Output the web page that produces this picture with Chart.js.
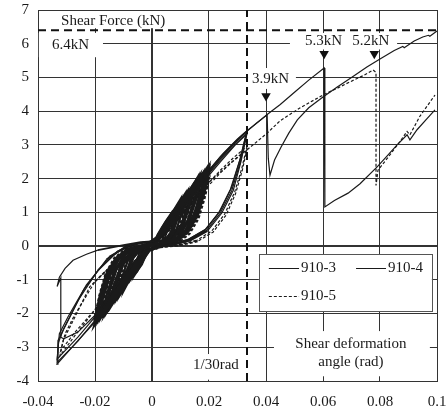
<!DOCTYPE html>
<html>
<head>
<meta charset="utf-8">
<script src="https://cdn.jsdelivr.net/npm/chart.js@4"></script>
<style>
  body { margin: 0; background: #fff; }
  #wrap { width: 448px; height: 412px; }
</style>
</head>
<body>
<div id="wrap"><canvas id="chart" width="448" height="412"></canvas></div>
<script>
// Axis ticks
const xTicks = [-0.04, -0.02, 0, 0.02, 0.04, 0.06, 0.08, 0.1];
const xTickLabels = ["-0.04", "-0.02", "0", "0.02", "0.04", "0.06", "0.08", "0.1"];
const yTicks = [-4, -3, -2, -1, 0, 1, 2, 3, 4, 5, 6, 7];

// Shear deformation angle (rad), shear force (kN)
const s910_3 = [
  [0,0],[0.0015,0.25],[0.0033,0.5],[0.0025,0.28],[0.001,0.05],[-0.001,-0.12],[-0.0033,-0.48],[-0.0025,-0.27],[-0.001,-0.03],[0.0005,0.08],
  [0.002,0.35],[0.0035,0.57],[0.005,0.75],[0.004,0.45],[0.0025,0.15],[0.001,0.02],[-0.001,-0.1],[-0.0025,-0.35],[-0.0035,-0.55],[-0.005,-0.72],[-0.004,-0.42],[-0.0025,-0.12],[-0.001,0],[0.001,0.12],
  [0.003,0.42],[0.0055,0.8],[0.0075,1.05],[0.0062,0.62],[0.0045,0.25],[0.0025,0.05],[0,-0.05],[-0.003,-0.4],[-0.0055,-0.75],[-0.0075,-1.0],[-0.0062,-0.58],[-0.0045,-0.22],[-0.0025,-0.03],[0,0.08],
  [0.003,0.4],[0.006,0.82],[0.008,1.1],[0.01,1.35],[0.0085,0.85],[0.0065,0.4],[0.004,0.12],[0.001,0],[-0.002,-0.2],[-0.005,-0.6],[-0.0075,-0.95],[-0.01,-1.3],[-0.0085,-0.8],[-0.0065,-0.35],[-0.004,-0.1],[-0.001,0.05],
  [0.002,0.2],[0.005,0.62],[0.008,1.02],[0.01,1.27],[0.0087,0.82],[0.0068,0.36],[0.0042,0.1],[0.001,-0.02],[-0.002,-0.22],[-0.005,-0.58],[-0.008,-0.98],[-0.01,-1.22],[-0.0087,-0.75],[-0.0068,-0.32],[-0.0042,-0.08],[-0.001,0.06],
  [0.003,0.35],[0.006,0.78],[0.0085,1.15],[0.011,1.45],[0.0094,0.92],[0.0073,0.42],[0.0046,0.11],[0.0015,-0.01],[-0.002,-0.2],[-0.0055,-0.62],[-0.0085,-1.05],[-0.011,-1.4],[-0.0094,-0.88],[-0.0073,-0.38],[-0.0046,-0.09],[-0.0015,0.05],
  [0.003,0.35],[0.0065,0.82],[0.0095,1.25],[0.0125,1.6],[0.0107,1.02],[0.0085,0.5],[0.0055,0.14],[0.002,0],[-0.0015,-0.15],[-0.0045,-0.5],[-0.0085,-1.02],[-0.0125,-1.55],[-0.0107,-0.97],[-0.0085,-0.45],[-0.0055,-0.11],[-0.002,0.04],
  [0.002,0.2],[0.005,0.55],[0.009,1.05],[0.012,1.5],[0.015,1.9],[0.013,1.25],[0.0105,0.65],[0.007,0.2],[0.003,0.02],[-0.001,-0.1],[-0.005,-0.55],[-0.009,-1.05],[-0.012,-1.45],[-0.015,-1.85],[-0.013,-1.2],[-0.0105,-0.6],[-0.007,-0.18],[-0.003,0],[0.001,0.12],
  [0.005,0.5],[0.009,0.98],[0.012,1.4],[0.015,1.8],[0.0132,1.2],[0.0108,0.6],[0.0072,0.18],[0.003,0],[-0.001,-0.12],[-0.005,-0.52],[-0.009,-1.0],[-0.012,-1.38],[-0.015,-1.76],[-0.0132,-1.12],[-0.0108,-0.55],[-0.0072,-0.15],[-0.003,0.02],[0.001,0.12],
  [0.004,0.42],[0.008,0.92],[0.0125,1.5],[0.0165,2.0],[0.0148,1.38],[0.0124,0.76],[0.009,0.28],[0.0055,0.06],[0.0015,-0.02],[-0.002,-0.17],[-0.0065,-0.62],[-0.011,-1.2],[-0.0165,-1.95],[-0.0148,-1.32],[-0.0124,-0.7],[-0.009,-0.24],[-0.0055,-0.04],[-0.0015,0.06],[0.001,0.12],
  [0.004,0.4],[0.008,0.9],[0.0125,1.5],[0.0175,2.1],[0.0157,1.45],[0.0132,0.82],[0.0098,0.33],[0.006,0.08],[0.002,0],[-0.002,-0.15],[-0.006,-0.55],[-0.0105,-1.1],[-0.014,-1.55],[-0.0175,-2.02],[-0.0157,-1.4],[-0.0132,-0.75],[-0.0098,-0.28],[-0.006,-0.05],[-0.002,0.05],[0.001,0.12],
  [0.005,0.5],[0.0095,1.05],[0.0145,1.7],[0.019,2.3],[0.0172,1.66],[0.0148,0.98],[0.0115,0.45],[0.0075,0.14],[0.0028,0.01],[-0.002,-0.14],[-0.0062,-0.6],[-0.0105,-1.12],[-0.0148,-1.7],[-0.019,-2.25],[-0.0172,-1.58],[-0.0148,-0.9],[-0.0115,-0.39],[-0.0075,-0.1],[-0.0028,0.03],[0.001,0.12],
  [0.005,0.5],[0.01,1.1],[0.015,1.75],[0.02,2.4],[0.018,1.75],[0.0155,1.05],[0.012,0.5],[0.008,0.18],[0.003,0.03],[-0.002,-0.12],[-0.006,-0.55],[-0.01,-1.05],[-0.015,-1.65],[-0.02,-2.3],[-0.018,-1.65],[-0.0155,-0.95],[-0.012,-0.42],[-0.008,-0.12],[-0.003,0.02],[0.001,0.12],
  [0.005,0.48],[0.01,1.05],[0.015,1.65],[0.02,2.25],[0.0182,1.65],[0.0158,0.98],[0.0123,0.45],[0.0082,0.15],[0.003,0.02],[-0.002,-0.14],[-0.006,-0.52],[-0.01,-1.0],[-0.015,-1.6],[-0.02,-2.2],[-0.0182,-1.55],[-0.0158,-0.88],[-0.0123,-0.38],[-0.0082,-0.1],[-0.003,0.03],[0.001,0.12],
  [0.005,0.45],[0.01,1.0],[0.015,1.58],[0.02,2.15],[0.0185,1.58],[0.0162,0.92],[0.0128,0.42],[0.0088,0.13],[0.0035,0.01],[-0.002,-0.16],[-0.006,-0.55],[-0.01,-1.02],[-0.015,-1.58],[-0.02,-2.12],[-0.0185,-1.5],[-0.0162,-0.84],[-0.0128,-0.35],[-0.0088,-0.09],[-0.0035,0.03],[0.001,0.12],
  [0.006,0.6],[0.012,1.3],[0.018,2.0],[0.024,2.6],[0.029,3.05],[0.0333,3.4],[0.031,2.6],[0.028,1.75],[0.024,1.05],[0.019,0.5],[0.013,0.2],[0.007,0.06],[0.002,0],[-0.003,-0.15],[-0.008,-0.65],[-0.014,-1.35],[-0.02,-2.25],[-0.026,-2.8],[-0.0333,-3.5],[-0.033,-2.8],[-0.03,-2.3],[-0.024,-1.3],[-0.016,-0.4],[-0.009,0],[-0.003,0.1],[0.001,0.15],
  [0.006,0.55],[0.012,1.22],[0.018,1.9],[0.024,2.5],[0.029,2.98],[0.0333,3.32],[0.0312,2.5],[0.0285,1.65],[0.0245,0.98],[0.0195,0.45],[0.0135,0.17],[0.0072,0.04],[0.002,-0.02],[-0.003,-0.18],[-0.008,-0.68],[-0.014,-1.35],[-0.02,-2.1],[-0.026,-2.7],[-0.0333,-3.35],[-0.0325,-2.6],[-0.0295,-2.1],[-0.023,-1.15],[-0.015,-0.32],[-0.008,0.02],[-0.003,0.1],[0.001,0.15],
  [0.005,0.55],[0.01,1.1],[0.015,1.65],[0.02,2.2],[0.025,2.7],[0.03,3.15],[0.0333,3.4],[0.0367,3.65],[0.0404,3.89],[0.0408,2.6],[0.0414,2.1],[0.043,2.55],[0.0453,2.94],[0.048,3.35],[0.051,3.74],[0.055,4.1],[0.06,4.42],[0.065,4.72],[0.07,5.0],[0.0754,5.31],[0.08,5.55],[0.085,5.8],[0.088,5.92],[0.0885,5.88],[0.092,6.08],[0.095,6.2],[0.097,6.25],[0.0975,6.22],[0.1,6.38]
];

const s910_4 = [
  [0,0],[0.002,0.33],[0.004,0.6],[0.003,0.32],[0.0015,0.06],[-0.001,-0.12],[-0.004,-0.58],[-0.003,-0.3],[-0.0015,-0.04],[0.0005,0.1],
  [0.0025,0.38],[0.0045,0.7],[0.0065,0.95],[0.0053,0.55],[0.0037,0.2],[0.0018,0.03],[-0.0005,-0.08],[-0.0025,-0.35],[-0.0045,-0.66],[-0.0065,-0.92],[-0.0053,-0.5],[-0.0037,-0.17],[-0.0018,0],[0.0005,0.1],
  [0.003,0.42],[0.006,0.85],[0.0082,1.15],[0.01,1.4],[0.0086,0.9],[0.0066,0.42],[0.0041,0.13],[0.0012,0.01],[-0.002,-0.2],[-0.005,-0.62],[-0.0077,-0.98],[-0.01,-1.35],[-0.0086,-0.85],[-0.0066,-0.37],[-0.0041,-0.1],[-0.0012,0.05],
  [0.003,0.38],[0.0062,0.82],[0.009,1.22],[0.0115,1.55],[0.0098,1.0],[0.0076,0.46],[0.0048,0.12],[0.0016,0],[-0.002,-0.2],[-0.0057,-0.66],[-0.0088,-1.12],[-0.0115,-1.5],[-0.0098,-0.95],[-0.0076,-0.42],[-0.0048,-0.1],[-0.0016,0.05],
  [0.003,0.3],[0.0065,0.8],[0.0095,1.25],[0.0125,1.65],[0.0108,1.05],[0.0086,0.5],[0.0057,0.14],[0.0022,0],[-0.0015,-0.14],[-0.0045,-0.5],[-0.0085,-1.05],[-0.0125,-1.6],[-0.0108,-1.0],[-0.0086,-0.45],[-0.0057,-0.1],[-0.0022,0.04],
  [0.0035,0.38],[0.0075,0.92],[0.011,1.4],[0.0145,1.85],[0.0125,1.2],[0.01,0.6],[0.0068,0.18],[0.003,0.01],[-0.001,-0.12],[-0.005,-0.55],[-0.0095,-1.15],[-0.0145,-1.82],[-0.0125,-1.15],[-0.01,-0.55],[-0.0068,-0.15],[-0.003,0.02],[0.001,0.12],
  [0.002,0.18],[0.0055,0.6],[0.0095,1.12],[0.013,1.62],[0.016,2.05],[0.014,1.38],[0.0112,0.72],[0.0075,0.22],[0.0032,0.02],[-0.001,-0.12],[-0.0055,-0.6],[-0.0095,-1.1],[-0.013,-1.58],[-0.016,-2.0],[-0.014,-1.32],[-0.0112,-0.66],[-0.0075,-0.19],[-0.0032,0.01],[0.001,0.13],
  [0.004,0.45],[0.0083,0.98],[0.0128,1.6],[0.017,2.15],[0.0152,1.48],[0.0127,0.8],[0.0093,0.3],[0.0057,0.07],[0.0016,-0.01],[-0.002,-0.16],[-0.0067,-0.65],[-0.0115,-1.28],[-0.017,-2.1],[-0.0152,-1.42],[-0.0127,-0.74],[-0.0093,-0.26],[-0.0057,-0.05],[-0.0016,0.06],[0.001,0.13],
  [0.004,0.42],[0.0085,0.95],[0.013,1.55],[0.018,2.2],[0.016,1.5],[0.0135,0.85],[0.01,0.35],[0.0062,0.09],[0.002,0],[-0.002,-0.16],[-0.0065,-0.62],[-0.011,-1.18],[-0.0145,-1.65],[-0.018,-2.15],[-0.016,-1.45],[-0.0135,-0.78],[-0.01,-0.3],[-0.0062,-0.06],[-0.002,0.05],[0.001,0.13],
  [0.005,0.52],[0.01,1.12],[0.015,1.78],[0.02,2.35],[0.0178,1.68],[0.0152,1.0],[0.0118,0.48],[0.0078,0.16],[0.0028,0.02],[-0.002,-0.12],[-0.006,-0.58],[-0.01,-1.1],[-0.015,-1.72],[-0.0205,-2.4],[-0.0183,-1.72],[-0.0158,-1.0],[-0.0122,-0.44],[-0.0082,-0.13],[-0.003,0.02],[0.001,0.13],
  [0.005,0.46],[0.01,1.02],[0.015,1.62],[0.02,2.2],[0.0183,1.6],[0.016,0.95],[0.0125,0.43],[0.0085,0.14],[0.0032,0.01],[-0.002,-0.15],[-0.006,-0.55],[-0.01,-1.05],[-0.015,-1.65],[-0.02,-2.25],[-0.0183,-1.6],[-0.016,-0.9],[-0.0125,-0.4],[-0.0085,-0.11],[-0.003,0.03],[0.001,0.13],
  [0.005,0.5],[0.01,1.08],[0.015,1.7],[0.02,2.3],[0.018,1.64],[0.0156,0.98],[0.012,0.46],[0.008,0.15],[0.003,0.02],[-0.002,-0.13],[-0.006,-0.56],[-0.01,-1.08],[-0.015,-1.7],[-0.02,-2.3],[-0.018,-1.62],[-0.0156,-0.94],[-0.012,-0.4],[-0.008,-0.11],[-0.003,0.03],[0.001,0.13],
  [0.006,0.62],[0.012,1.33],[0.018,2.05],[0.024,2.65],[0.029,3.08],[0.0333,3.42],[0.0308,2.55],[0.0275,1.68],[0.0235,1.0],[0.0185,0.47],[0.0125,0.18],[0.0068,0.05],[0.002,0],[-0.003,-0.17],[-0.008,-0.7],[-0.014,-1.42],[-0.02,-2.2],[-0.026,-2.82],[-0.0333,-3.45],[-0.0328,-2.85],[-0.031,-2.45],[-0.026,-1.62],[-0.019,-0.72],[-0.012,-0.15],[-0.005,0.08],[0.001,0.14],
  [0.006,0.58],[0.012,1.27],[0.018,1.96],[0.024,2.55],[0.029,3.0],[0.0333,3.35],[0.031,2.5],[0.028,1.65],[0.024,0.98],[0.019,0.45],[0.013,0.17],[0.007,0.04],[0.002,-0.02],[-0.003,-0.16],[-0.008,-0.66],[-0.014,-1.35],[-0.02,-2.05],[-0.026,-2.55],[-0.031,-2.75],[-0.032,-2.7],[-0.032,-0.95],[-0.0333,-1.2],[-0.0325,-0.92],[-0.0305,-0.66],[-0.0277,-0.42],[-0.023,-0.24],[-0.019,-0.12],[-0.01,0.03],[-0.004,0.12],[0.001,0.15],
  [0.005,0.55],[0.01,1.12],[0.015,1.7],[0.02,2.25],[0.025,2.75],[0.03,3.18],[0.0333,3.42],[0.037,3.66],[0.0404,3.9],[0.045,4.2],[0.05,4.56],[0.055,4.92],[0.0604,5.28],[0.0606,3.0],[0.0607,1.16],[0.064,1.35],[0.0688,1.57],[0.073,1.85],[0.079,2.35],[0.083,2.72],[0.086,3.0],[0.0895,3.3],[0.0905,3.15],[0.093,3.45],[0.0965,3.78],[0.0993,4.04]
];

const s910_5 = [
  [0,0],[0.002,0.22],[0.0035,0.42],[0.005,0.6],[0.004,0.33],[0.0025,0.1],[0.001,0],[-0.001,-0.1],[-0.0035,-0.42],[-0.005,-0.6],[-0.004,-0.32],[-0.0025,-0.08],[-0.001,0.02],[0.001,0.1],
  [0.004,0.42],[0.007,0.8],[0.01,1.15],[0.0085,0.7],[0.0065,0.3],[0.004,0.08],[0.001,-0.02],[-0.002,-0.2],[-0.005,-0.55],[-0.0075,-0.85],[-0.01,-1.15],[-0.0085,-0.68],[-0.0065,-0.28],[-0.004,-0.06],[-0.001,0.05],
  [0.003,0.28],[0.0065,0.7],[0.0095,1.05],[0.0125,1.35],[0.0107,0.85],[0.0085,0.4],[0.0055,0.1],[0.002,-0.01],[-0.0015,-0.14],[-0.0045,-0.48],[-0.0085,-0.92],[-0.0125,-1.35],[-0.0107,-0.83],[-0.0085,-0.38],[-0.0055,-0.08],[-0.002,0.04],
  [0.0035,0.3],[0.0075,0.76],[0.011,1.18],[0.0145,1.55],[0.0126,1.0],[0.0102,0.48],[0.0069,0.13],[0.003,0],[-0.001,-0.12],[-0.005,-0.5],[-0.0095,-0.98],[-0.0145,-1.55],[-0.0126,-0.98],[-0.0102,-0.45],[-0.0069,-0.1],[-0.003,0.03],[0.001,0.1],
  [0.003,0.25],[0.007,0.7],[0.011,1.15],[0.015,1.6],[0.013,1.05],[0.0105,0.5],[0.007,0.14],[0.003,0],[-0.001,-0.12],[-0.005,-0.5],[-0.01,-1.0],[-0.015,-1.6],[-0.013,-1.02],[-0.0105,-0.47],[-0.007,-0.12],[-0.003,0.02],[0.001,0.1],
  [0.004,0.35],[0.008,0.8],[0.0125,1.3],[0.0175,1.8],[0.0158,1.25],[0.0135,0.68],[0.0102,0.27],[0.0065,0.06],[0.002,-0.01],[-0.002,-0.15],[-0.0065,-0.58],[-0.011,-1.05],[-0.0175,-1.85],[-0.0158,-1.25],[-0.0135,-0.65],[-0.0102,-0.24],[-0.0065,-0.04],[-0.002,0.05],[0.001,0.1],
  [0.005,0.42],[0.01,0.92],[0.015,1.45],[0.02,2.0],[0.0182,1.45],[0.016,0.85],[0.0128,0.4],[0.0088,0.12],[0.0035,0],[-0.002,-0.14],[-0.006,-0.52],[-0.01,-0.98],[-0.015,-1.52],[-0.02,-2.1],[-0.0182,-1.48],[-0.016,-0.85],[-0.0128,-0.38],[-0.0088,-0.1],[-0.0035,0.02],[0.001,0.1],
  [0.005,0.4],[0.01,0.88],[0.015,1.4],[0.02,1.95],[0.0184,1.38],[0.0163,0.8],[0.0132,0.36],[0.0092,0.1],[0.0038,-0.01],[-0.002,-0.16],[-0.006,-0.52],[-0.01,-0.95],[-0.015,-1.48],[-0.02,-2.05],[-0.0184,-1.42],[-0.0163,-0.8],[-0.0132,-0.34],[-0.0092,-0.08],[-0.0035,0.03],[0.001,0.1],
  [0.006,0.48],[0.012,1.1],[0.018,1.7],[0.024,2.25],[0.029,2.65],[0.0333,2.95],[0.0315,2.3],[0.029,1.6],[0.0255,0.95],[0.021,0.45],[0.0155,0.16],[0.009,0.03],[0.003,-0.03],[-0.003,-0.18],[-0.009,-0.7],[-0.015,-1.35],[-0.021,-2.0],[-0.027,-2.65],[-0.0323,-3.25],[-0.0312,-2.8],[-0.0288,-2.4],[-0.0218,-1.2],[-0.0123,-0.42],[-0.0067,-0.06],[-0.002,0.06],[0.001,0.1],
  [0.006,0.45],[0.012,1.05],[0.018,1.63],[0.024,2.17],[0.029,2.57],[0.0333,2.87],[0.0317,2.25],[0.0293,1.55],[0.026,0.92],[0.0215,0.42],[0.016,0.14],[0.0095,0.02],[0.003,-0.04],[-0.003,-0.2],[-0.009,-0.72],[-0.015,-1.35],[-0.021,-1.98],[-0.027,-2.55],[-0.032,-3.1],[-0.0305,-2.6],[-0.0275,-2.1],[-0.02,-1.05],[-0.011,-0.32],[-0.006,-0.04],[-0.002,0.06],[0.001,0.1],
  [0.005,0.4],[0.01,0.9],[0.015,1.4],[0.02,1.9],[0.027,2.42],[0.0333,2.85],[0.0404,3.35],[0.045,3.72],[0.052,4.1],[0.06,4.48],[0.065,4.68],[0.0695,4.87],[0.074,5.05],[0.0776,5.22],[0.0786,5.15],[0.0786,1.8],[0.0793,2.25],[0.083,2.65],[0.087,3.1],[0.0895,3.4],[0.0905,3.3],[0.094,3.85],[0.0993,4.48]
];

// Reference lines and peak markers
const maxForceLine = [[-0.04, 6.4], [0.1, 6.4]];
const angleLine = [[1 / 30, -4], [1 / 30, 7]];
const peakArrows = [[0.04, 4.45], [0.0604, 5.7], [0.078, 5.7]];

const FONT = '15px "Liberation Serif", "Times New Roman", serif';
const INK = "#1a1a1a";

const toXY = arr => arr.map(p => ({ x: p[0], y: p[1] }));

// White label boxes that cut the grid (data coords: x0, x1, y0, y1)
const labelBoxes = [
  [-0.0393, 0.0070, 6.97, 6.46],
  [-0.0397, -0.0172, 6.32, 5.6],
  [0.0484, 0.0860, 6.32, 5.83],
  [0.0337, 0.0505, 5.28, 4.66],
  [0.0126, 0.0323, -3.2, -3.96],
  [0.0428, 0.0975, -2.52, -3.86],
  [0.0375, 0.0982, -0.24, -1.93]
];

const notes = [
  { t: "Shear Force (kN)", x: -0.0319, y: 6.68, a: "left" },
  { t: "6.4kN", x: -0.0351, y: 5.97, a: "left" },
  { t: "5.3kN", x: 0.0602, y: 6.08, a: "center" },
  { t: "5.2kN", x: 0.0768, y: 6.08, a: "center" },
  { t: "3.9kN", x: 0.0351, y: 4.95, a: "left" },
  { t: "1/30rad", x: 0.0144, y: -3.53, a: "left" },
  { t: "Shear deformation", x: 0.0698, y: -2.9, a: "center" },
  { t: "angle (rad)", x: 0.0698, y: -3.45, a: "center" }
];

const legendRows = [
  { t: "910-3", x0: 0.041, x1: 0.0516, y: -0.65, dash: [] },
  { t: "910-4", x0: 0.0716, x1: 0.0821, y: -0.65, dash: [] },
  { t: "910-5", x0: 0.041, x1: 0.0516, y: -1.48, dash: [3, 2] }
];

const overlay = {
  id: "overlay",
  beforeDatasetsDraw(chart) {
    const { ctx } = chart;
    const sx = chart.scales.x, sy = chart.scales.y;
    const px = v => sx.getPixelForValue(v);
    const py = v => sy.getPixelForValue(v);
    ctx.save();

    ctx.fillStyle = "#fff";
    labelBoxes.forEach(b => {
      ctx.fillRect(px(b[0]), py(b[2]), px(b[1]) - px(b[0]), py(b[3]) - py(b[2]));
    });

    // legend frame
    const lb = labelBoxes[6];
    ctx.strokeStyle = "#555";
    ctx.lineWidth = 1;
    ctx.strokeRect(Math.round(px(lb[0])) + 0.5, Math.round(py(lb[2])) + 0.5,
      Math.round(px(lb[1]) - px(lb[0])), Math.round(py(lb[3]) - py(lb[2])));

    ctx.font = FONT;
    ctx.fillStyle = INK;
    ctx.textBaseline = "middle";
    notes.forEach(n => {
      ctx.textAlign = n.a;
      ctx.fillText(n.t, px(n.x), py(n.y));
    });

    ctx.strokeStyle = INK;
    ctx.textAlign = "left";
    legendRows.forEach(r => {
      const yy = Math.round(py(r.y)) + 0.5;
      ctx.setLineDash(r.dash);
      ctx.beginPath();
      ctx.moveTo(px(r.x0), yy);
      ctx.lineTo(px(r.x1), yy);
      ctx.stroke();
      ctx.fillText(r.t, px(r.x1) + 2, py(r.y));
    });
    ctx.restore();
  }
};

// the small cycles pile up into a dark band, so draw them a bit heavier
const inCore = c => Math.abs(c.p0.parsed.x) < 0.021 && Math.abs(c.p1.parsed.x) < 0.021;

const curve = (label, data, dash) => ({
  label,
  data: toXY(data),
  showLine: true,
  borderColor: INK,
  borderWidth: 1.2,
  borderDash: dash,
  pointRadius: 0,
  tension: 0,
  segment: { borderWidth: c => (inCore(c) ? 1.8 : 1.2) }
});

new Chart(document.getElementById("chart"), {
  type: "scatter",
  data: {
    datasets: [
      {
        label: "peaks",
        data: toXY(peakArrows),
        pointStyle: "triangle",
        rotation: 180,
        pointRadius: 5.5,
        backgroundColor: "#111",
        borderColor: "#111",
        borderWidth: 0,
        showLine: false
      },
      {
        label: "6.4kN",
        data: toXY(maxForceLine),
        showLine: true,
        borderColor: "#111",
        borderWidth: 2,
        borderDash: [8, 5],
        pointRadius: 0
      },
      {
        label: "1/30rad",
        data: toXY(angleLine),
        showLine: true,
        borderColor: "#111",
        borderWidth: 2,
        borderDash: [8, 5],
        pointRadius: 0
      },
      curve("910-3", s910_3, []),
      curve("910-4", s910_4, []),
      curve("910-5", s910_5, [3, 2])
    ]
  },
  options: {
    responsive: false,
    animation: false,
    layout: { padding: { top: 10, right: 11, left: 0, bottom: 0 } },
    plugins: {
      legend: { display: false },
      tooltip: { enabled: false }
    },
    scales: {
      x: {
        type: "linear",
        min: -0.04,
        max: 0.1,
        afterBuildTicks: s => { s.ticks = xTicks.map(v => ({ value: v })); },
        afterFit: s => { s.height = 31; s.paddingLeft = 0; s.paddingRight = 0; },
        ticks: {
          font: { family: '"Liberation Serif"', size: 15 },
          color: INK,
          padding: 12,
          maxRotation: 0,
          callback: (v, i) => xTickLabels[i]
        },
        grid: {
          color: "#333",
          drawTicks: false,
          lineWidth: c => (c.tick && c.tick.value === 0 ? 2 : 1)
        },
        border: { color: "#333" }
      },
      y: {
        type: "linear",
        min: -4,
        max: 7,
        afterBuildTicks: s => { s.ticks = yTicks.map(v => ({ value: v })); },
        afterFit: s => { s.width = 38; s.paddingTop = 0; s.paddingBottom = 0; },
        ticks: {
          font: { family: '"Liberation Serif"', size: 15 },
          color: INK,
          padding: 9,
          callback: v => String(v)
        },
        grid: {
          color: "#333",
          drawTicks: false,
          lineWidth: c => (c.tick && c.tick.value === 0 ? 2 : 1)
        },
        border: { color: "#333" }
      }
    }
  },
  plugins: [overlay]
});
</script>
</body>
</html>
